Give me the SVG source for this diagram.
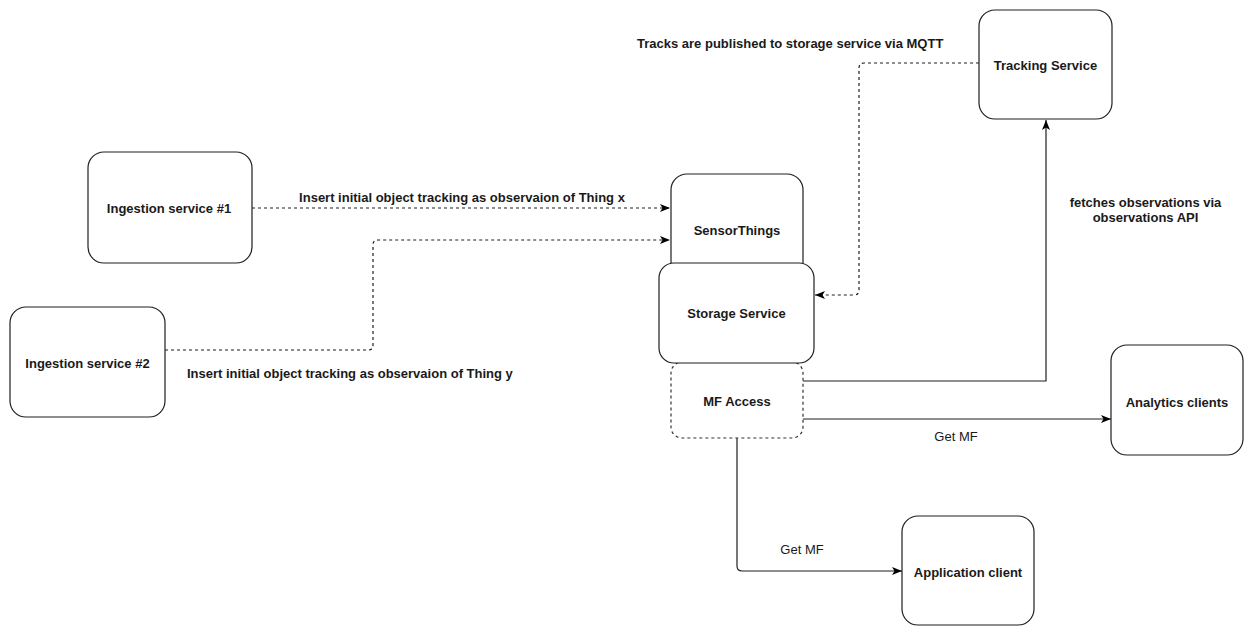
<svg xmlns="http://www.w3.org/2000/svg" width="1249" height="626" viewBox="0 0 1249 626">
  <style>
    .node { fill: #ffffff; stroke: #1f1f1f; stroke-width: 1.2; }
    .dnode { fill: #ffffff; stroke: #333333; stroke-width: 1.2; stroke-dasharray: 3 3; }
    .lbl { font-family: "Liberation Sans", Arial, sans-serif; font-size: 13px; font-weight: bold; fill: #1a1a1a; text-anchor: middle; }
    .elbl { font-family: "Liberation Sans", Arial, sans-serif; font-size: 13px; font-weight: bold; fill: #1a1a1a; }
    .glbl { font-family: "Liberation Sans", Arial, sans-serif; font-size: 13px; fill: #1a1a1a; text-anchor: middle; }
    .edge { fill: none; stroke: #1f1f1f; stroke-width: 1.2; }
    .dash { stroke-dasharray: 3 3; }
  </style>
  <defs>
    <marker id="arr" markerUnits="userSpaceOnUse" markerWidth="10" markerHeight="8" refX="10" refY="4" orient="auto" viewBox="0 0 10 8">
      <path d="M0,0 L10,4 L0,8 L2.5,4 Z" fill="#000000"/>
    </marker>
  </defs>
  <rect width="1249" height="626" fill="#ffffff"/>

  <g id="connectors">
    <path class="edge dash" d="M252,208 L670,208" marker-end="url(#arr)"/>
    <path class="edge dash" d="M165,350 L368,350 Q373,350 373,345 L373,245 Q373,240 378,240 L670,240" marker-end="url(#arr)"/>
    <path class="edge dash" d="M979,63 L864,63 Q859,63 859,68 L859,290 Q859,295 854,295 L815,295" marker-end="url(#arr)"/>
    <path class="edge" d="M803,381 L1046,381 L1046,120" marker-end="url(#arr)"/>
    <path class="edge" d="M803,419 L1111,419" marker-end="url(#arr)"/>
    <path class="edge" d="M737,438 L737,566 Q737,571 742,571 L902,571" marker-end="url(#arr)"/>
    <text class="elbl" x="462" y="201.5" text-anchor="middle">Insert initial object tracking as observaion of Thing x</text>
    <text class="elbl" x="187" y="378">Insert initial object tracking as observaion of Thing y</text>
    <text class="elbl" x="637" y="47.5">Tracks are published to storage service via MQTT</text>
    <text class="elbl" x="1145.5" y="206.5" text-anchor="middle">fetches observations via</text>
    <text class="elbl" x="1145.5" y="221.5" text-anchor="middle">observations API</text>
    <text class="glbl" x="956" y="440.5">Get MF</text>
    <text class="glbl" x="802" y="553.5">Get MF</text>
  </g>

  <g id="ingestion1">
    <rect class="node" x="88" y="152" width="164" height="111" rx="16"/>
    <text class="lbl" x="169" y="213">Ingestion service #1</text>
  </g>
  <g id="ingestion2">
    <rect class="node" x="10" y="307" width="155" height="110" rx="16"/>
    <text class="lbl" x="87.5" y="367.5">Ingestion service #2</text>
  </g>
  <g id="sensorthings">
    <rect class="node" x="671" y="174" width="132" height="110" rx="16"/>
    <text class="lbl" x="737" y="234.5">SensorThings</text>
  </g>
  <g id="mfaccess">
    <rect class="dnode" x="671" y="362" width="132" height="76" rx="11"/>
    <text class="lbl" x="737" y="405.5">MF Access</text>
  </g>
  <g id="storage">
    <rect class="node" x="659" y="263" width="155" height="100" rx="15"/>
    <text class="lbl" x="736.5" y="317.5">Storage Service</text>
  </g>
  <g id="tracking">
    <rect class="node" x="979" y="10" width="133" height="109" rx="16"/>
    <text class="lbl" x="1045.5" y="69.5">Tracking Service</text>
  </g>
  <g id="analytics">
    <rect class="node" x="1111" y="345" width="132" height="110" rx="16"/>
    <text class="lbl" x="1177" y="406.5">Analytics clients</text>
  </g>
  <g id="application">
    <rect class="node" x="902" y="516" width="132" height="109" rx="16"/>
    <text class="lbl" x="968" y="576.5">Application client</text>
  </g>
</svg>
